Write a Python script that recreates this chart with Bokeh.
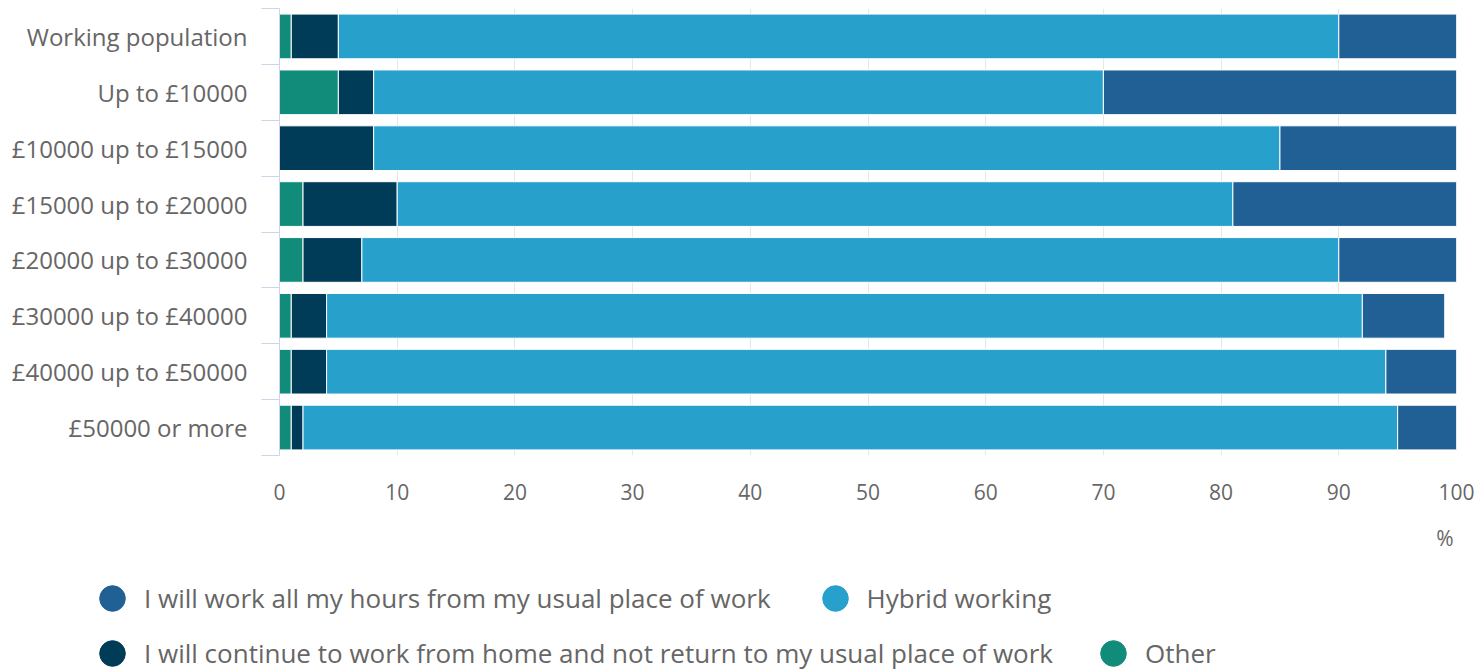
import numpy as np
from bokeh.plotting import figure
from bokeh.models import (ColumnDataSource, Range1d, FixedTicker, Legend, LegendItem, Label)
from bokeh.embed import file_html
from bokeh.resources import INLINE

categories = ["Working population", "Up to £10000", "£10000 up to £15000", "£15000 up to £20000",
              "£20000 up to £30000", "£30000 up to £40000", "£40000 up to £50000", "£50000 or more"]
other = [1, 5, 0, 2, 2, 1, 1, 1]
home = [4, 3, 8, 8, 5, 3, 3, 1]
hybrid = [85, 62, 77, 71, 83, 88, 90, 93]
usual = [10, 30, 15, 19, 10, 7, 6, 5]
x_ticks = [0, 10, 20, 30, 40, 50, 60, 70, 80, 90, 100]
unit_label = "%"

series_names = {
    "usual": "I will work all my hours from my usual place of work",
    "hybrid": "Hybrid working",
    "home": "I will continue to work from home and not return to my usual place of work",
    "other": "Other",
}
colors = {"other": "#118C7B", "home": "#003C57", "hybrid": "#27A0CC", "usual": "#206095"}

FONT = "Open Sans"
TXT = "#666666"
W = 1479
H1 = 515
H2 = 671 - H1
n = len(categories)
idx = list(range(n))

source = ColumnDataSource(dict(y=idx, other=other, home=home, hybrid=hybrid, usual=usual))

p = figure(width=W, height=H1, output_backend="svg", toolbar_location=None,
           x_range=Range1d(0, 100), y_range=Range1d(n - 0.5, -0.5),
           min_border_left=279, min_border_right=23, min_border_top=8, min_border_bottom=H1 - 455)
p.outline_line_color = None

stack_keys = ["other", "home", "hybrid", "usual"]
p.hbar_stack(stack_keys, y="y", height=0.8, source=source,
             color=[colors[k] for k in stack_keys], line_color="white", line_width=1)

# X axis
p.xaxis.ticker = FixedTicker(ticks=x_ticks)
p.xaxis.axis_line_color = None
p.xaxis.major_tick_line_color = None
p.xaxis.minor_tick_line_color = None
p.xaxis.major_tick_out = 0
p.xaxis.minor_tick_out = 0
p.xaxis.major_label_standoff = 28
p.xaxis.major_label_text_font = FONT
p.xaxis.major_label_text_font_size = "21px"
p.xaxis.major_label_text_color = TXT
p.xgrid.ticker = FixedTicker(ticks=x_ticks)
p.xgrid.grid_line_color = "#e6e6e6"
p.xgrid.grid_line_width = 1
p.ygrid.grid_line_color = None

# Y axis (categories)
p.yaxis.ticker = FixedTicker(ticks=idx, minor_ticks=[i - 0.5 for i in range(n + 1)])
p.yaxis.major_label_overrides = {i: c for i, c in enumerate(categories)}
p.yaxis.axis_line_color = "#ccd6eb"
p.yaxis.major_tick_line_color = None
p.yaxis.major_tick_out = 0
p.yaxis.major_tick_in = 0
p.yaxis.minor_tick_line_color = "#ccd6eb"
p.yaxis.minor_tick_out = 18
p.yaxis.minor_tick_in = 0
p.yaxis.major_label_standoff = 14
p.yaxis.major_label_text_font = FONT
p.yaxis.major_label_text_font_size = "24px"
p.yaxis.major_label_text_color = TXT

# Second root: unit label + legend (no axes, frame covers whole canvas)
p2 = figure(width=W, height=H2, output_backend="svg", toolbar_location=None,
            x_range=Range1d(0, W), y_range=Range1d(0, H2),
            x_axis_location=None, y_axis_location=None,
            min_border_left=0, min_border_right=0, min_border_top=0, min_border_bottom=0)
p2.outline_line_color = None
p2.grid.visible = False

p2.add_layout(Label(x=1453, y=H2 - (537 - H1), x_units="screen", y_units="screen", text=unit_label,
                    text_align="right", text_baseline="middle",
                    text_font=FONT, text_font_size="21px", text_color=TXT))

dummy = {}
for k in ["usual", "hybrid", "home", "other"]:
    dummy[k] = p2.scatter(x=np.array([np.nan]), y=np.array([np.nan]), size=10,
                          marker="circle", color=colors[k])

GLYPH = 64

def make_legend(keys, center_y, spacing):
    top = center_y - H1 - GLYPH / 2
    bottom = top + GLYPH
    return Legend(items=[LegendItem(label=series_names[k], renderers=[dummy[k]]) for k in keys],
                  orientation="horizontal", location=(112 - GLYPH // 2, H2 - bottom),
                  glyph_width=GLYPH, glyph_height=GLYPH, label_standoff=-5, spacing=spacing,
                  padding=0, margin=0, border_line_color=None, background_fill_alpha=0,
                  label_text_font=FONT, label_text_font_size="26px", label_text_color=TXT)

p2.add_layout(make_legend(["usual", "hybrid"], 598, 32))
p2.add_layout(make_legend(["home", "other"], 653, 28))

open("out.html", "w").write(file_html([p, p2], INLINE))
